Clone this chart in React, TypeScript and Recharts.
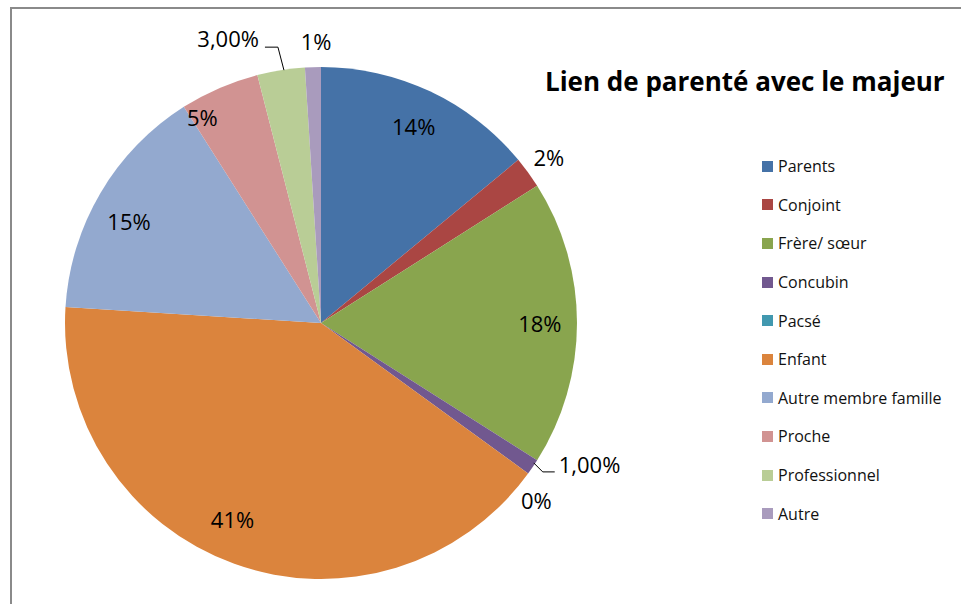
import { Cell, Legend, Pie, PieChart } from "recharts";

const categories = [
	"Parents",
	"Conjoint",
	"Frère/ sœur",
	"Concubin",
	"Pacsé",
	"Enfant",
	"Autre membre famille",
	"Proche",
	"Professionnel",
	"Autre",
];
const shares = [14, 2, 18, 1, 0, 41, 15, 5, 3, 1];
const shareLabels = [
	"14%",
	"2%",
	"18%",
	"1,00%",
	"0%",
	"41%",
	"15%",
	"5%",
	"3,00%",
	"1%",
];
const colors = [
	"#4572A7",
	"#AA4643",
	"#89A54E",
	"#71588F",
	"#4198AF",
	"#DB843D",
	"#93A9CF",
	"#D19392",
	"#B9CD96",
	"#A99BBD",
];

const data = categories.map((name, i) => ({ name, value: shares[i] }));

const FONT = "'Open Sans', 'Noto Sans', sans-serif";
const RAD = Math.PI / 180;

// radius ratio + angle nudge (deg, clockwise) for each label, leader: direction of elbow
const labelPlace: { r: number; nudge: number; leader?: "right" | "left" }[] = [
	{ r: 0.85, nudge: 0 },
	{ r: 1.1, nudge: 0 },
	{ r: 0.855, nudge: 0 },
	{ r: 1, nudge: 0, leader: "right" },
	{ r: 1.09, nudge: 3.5 },
	{ r: 0.84, nudge: 4.5 },
	{ r: 0.85, nudge: -2.5 },
	{ r: 0.93, nudge: -6.5 },
	{ r: 1, nudge: 0, leader: "left" },
	{ r: 1.1, nudge: 0.8 },
];

function renderLabel(props: any) {
	const { cx, cy, midAngle, outerRadius, index } = props;
	const place = labelPlace[index];
	const angle = midAngle - place.nudge;
	const r = outerRadius * place.r;
	const x = cx + Math.cos(-angle * RAD) * r;
	const y = cy + Math.sin(-angle * RAD) * r;
	const text = shareLabels[index];

	if (place.leader === "right") {
		const sx = x + 1;
		const sy = y - 4;
		const ex = sx + 9;
		const ey = sy + 9;
		const tx = ex + 12;
		return (
			<g key={`lbl-${index}`}>
				<polyline
					points={`${sx},${sy} ${ex},${ey} ${tx},${ey}`}
					fill="none"
					stroke="#000"
					strokeWidth={1}
				/>
				<text x={tx + 4} y={ey + 1} fontSize={22} fontFamily={FONT} fill="#000">
					{text}
				</text>
			</g>
		);
	}
	if (place.leader === "left") {
		const sx = x + 3;
		const sy = y;
		const ex = sx - 6;
		const ey = sy - 23;
		const tx = ex - 13;
		return (
			<g key={`lbl-${index}`}>
				<polyline
					points={`${sx},${sy} ${ex},${ey} ${tx},${ey}`}
					fill="none"
					stroke="#000"
					strokeWidth={1}
				/>
				<text
					x={tx - 6}
					y={ey}
					fontSize={22}
					fontFamily={FONT}
					fill="#000"
					textAnchor="end"
				>
					{text}
				</text>
			</g>
		);
	}
	return (
		<text
			key={`lbl-${index}`}
			x={x}
			y={y}
			fontSize={22}
			fontFamily={FONT}
			fill="#000"
			textAnchor="middle"
			dominantBaseline="central"
		>
			{text}
		</text>
	);
}

function renderLegend() {
	return (
		<div style={{ fontFamily: FONT, fontSize: 16, color: "#111" }}>
			{categories.map((name, i) => (
				<div
					key={name}
					style={{
						display: "flex",
						alignItems: "center",
						height: 38.6,
						whiteSpace: "nowrap",
					}}
				>
					<span
						style={{
							display: "inline-block",
							width: 11,
							height: 11,
							background: colors[i],
							marginRight: 5,
						}}
					/>
					{name}
				</div>
			))}
		</div>
	);
}

export default function App() {
	return (
		<div
			style={{
				position: "absolute",
				left: 0,
				top: 0,
				width: 961,
				height: 604,
				background: "#fff",
				overflow: "hidden",
			}}
		>
			<div
				style={{
					position: "absolute",
					left: 10,
					top: 7,
					width: 960,
					height: 610,
					borderLeft: "2px solid #8a8a8a",
					borderTop: "2px solid #8a8a8a",
				}}
			/>
			<div
				style={{
					position: "absolute",
					left: 545,
					top: 63,
					fontFamily: FONT,
					fontWeight: 700,
					fontSize: 26,
					whiteSpace: "nowrap",
					color: "#000",
				}}
			>
				Lien de parenté avec le majeur
			</div>
			<PieChart
				width={961}
				height={604}
				margin={{ top: 0, right: 0, bottom: 0, left: 0 }}
				style={{ position: "absolute", left: 0, top: 0 }}
			>
				<Pie
					data={data}
					dataKey="value"
					nameKey="name"
					cx={321}
					cy={323}
					outerRadius={256}
					startAngle={90}
					endAngle={-270}
					stroke="none"
					label={renderLabel}
					labelLine={false}
					isAnimationActive={false}
				>
					{data.map((d, i) => (
						<Cell key={d.name} fill={colors[i]} />
					))}
				</Pie>
				<Legend
					layout="vertical"
					content={renderLegend}
					wrapperStyle={{ position: "absolute", left: 762, top: 147, width: 200 }}
				/>
			</PieChart>
		</div>
	);
}
